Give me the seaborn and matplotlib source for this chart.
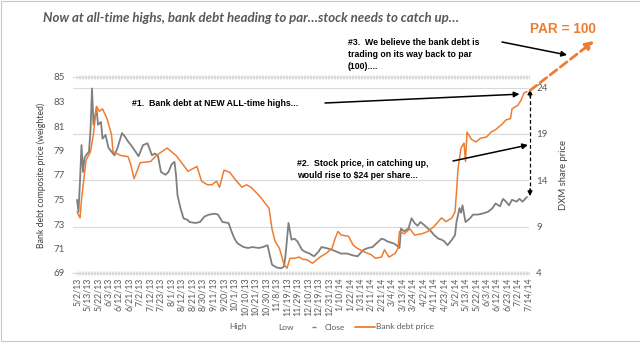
import matplotlib
matplotlib.use("Agg")
import matplotlib.pyplot as plt
from matplotlib.lines import Line2D
from matplotlib.patches import Rectangle
from matplotlib import font_manager
import pandas as pd
import seaborn as sns

# ---- data -------------------------------------------------------------
# x positions are trading sessions counted from 5/2/13
tick_labels = [
    "5/2/13", "5/13/13", "5/22/13", "6/3/13", "6/12/13", "6/21/13", "7/2/13",
    "7/12/13", "7/23/13", "8/1/13", "8/12/13", "8/21/13", "8/30/13", "9/11/13",
    "9/20/13", "10/1/13", "10/10/13", "10/21/13", "10/30/13", "11/8/13",
    "11/19/13", "11/29/13", "12/10/13", "12/19/13", "12/31/13", "1/10/14",
    "1/22/14", "1/31/14", "2/11/14", "2/21/14", "3/4/14", "3/13/14", "3/24/14",
    "4/2/14", "4/11/14", "4/23/14", "5/2/14", "5/13/14", "5/22/14", "6/3/14",
    "6/12/14", "6/23/14", "7/2/14", "7/14/14",
]
sessions_per_label = 7

bank_day = [0, 2, 3, 6, 9, 11, 13, 15, 17, 20, 23, 24, 29, 34, 36, 38, 40, 42,
            49, 53, 60, 62, 66, 71, 74, 80, 83, 87, 90, 93, 95, 98, 102, 105,
            110, 113, 116, 120, 123, 126, 128, 130, 132, 135, 138, 140, 142,
            145, 148, 151, 153, 157, 162, 166, 170, 172, 174, 176, 181, 184,
            187, 192, 196, 199, 203, 205, 208, 212, 214, 215, 218, 222, 225,
            230, 234, 238, 243, 246, 250, 252, 253, 254, 256, 258, 259, 260,
            263, 266, 269, 273, 276, 279, 283, 286, 289, 290, 294, 296, 298, 300]
bank_price = [74.0, 73.5, 75.0, 78.2, 78.9, 80.4, 82.6, 82.2, 82.4, 81.6, 80.3,
              78.9, 78.6, 78.5, 77.8, 76.7, 77.3, 78.0, 78.1, 78.6, 79.2, 79.0,
              78.6, 77.8, 77.3, 77.7, 76.5, 76.2, 76.2, 76.5, 76.0, 77.4, 77.2,
              76.7, 76.0, 76.2, 76.0, 75.5, 75.1, 74.6, 74.3, 72.6, 71.6, 71.0,
              69.7, 69.4, 70.2, 70.2, 70.3, 70.1, 70.1, 69.8, 70.3, 70.6, 71.0,
              71.8, 72.4, 72.1, 72.0, 71.3, 71.0, 70.7, 70.5, 70.2, 70.3, 70.9,
              70.3, 70.6, 71.0, 72.4, 72.2, 72.6, 72.1, 72.2, 72.4, 72.8, 73.5,
              73.2, 73.5, 74.0, 75.6, 77.5, 79.2, 79.6, 78.1, 80.5, 79.9, 79.7,
              80.0, 80.1, 80.5, 80.7, 81.1, 81.5, 81.6, 82.4, 82.7, 83.1, 83.7,
              83.8]

stock_day = [0, 1, 2, 3, 4, 5, 6, 8, 9, 10, 11, 13, 14, 16, 17, 19, 21, 23, 25,
             27, 30, 32, 34, 36, 39, 41, 44, 47, 50, 52, 54, 56, 59, 61, 63, 65,
             66, 67, 69, 71, 74, 75, 79, 82, 85, 88, 92, 94, 97, 101, 103, 105,
             107, 111, 114, 117, 121, 124, 127, 128, 130, 133, 136, 138, 139,
             140, 141, 143, 145, 147, 150, 152, 155, 158, 161, 163, 166, 170,
             173, 176, 180, 184, 187, 191, 194, 197, 201, 203, 205, 207, 211,
             213, 215, 216, 218, 221, 223, 225, 227, 229, 232, 234, 236, 238,
             241, 243, 245, 247, 250, 252, 253, 255, 256, 257, 259, 262, 264,
             267, 270, 274, 277, 279, 282, 284, 286, 288, 290, 293, 295, 297, 300]
stock_close = [11.9, 10.6, 13.9, 17.8, 14.9, 16.4, 16.7, 17.1, 19.4, 23.9, 20.0,
               21.8, 20.0, 20.3, 18.5, 18.9, 17.5, 17.1, 16.7, 17.5, 19.1, 18.7,
               18.2, 17.8, 17.1, 16.6, 17.8, 18.0, 16.7, 16.9, 16.6, 14.9, 14.6,
               14.9, 15.7, 16.0, 14.6, 12.4, 11.0, 9.9, 9.7, 9.5, 9.4, 9.5, 10.1,
               10.3, 10.4, 10.3, 9.5, 9.4, 8.5, 7.7, 7.2, 6.8, 6.7, 6.8, 6.7, 6.8,
               7.0, 6.3, 4.9, 4.6, 4.5, 4.7, 5.9, 7.7, 9.4, 7.6, 7.7, 7.4, 6.5,
               6.3, 6.1, 5.8, 6.3, 6.8, 6.7, 6.5, 6.3, 6.1, 6.1, 5.9, 5.8, 6.5,
               6.7, 6.8, 7.4, 7.7, 7.6, 7.4, 7.2, 7.0, 6.7, 8.8, 8.5, 8.8, 9.9,
               9.4, 9.1, 9.5, 9.1, 8.8, 8.5, 8.1, 7.7, 7.6, 7.4, 7.0, 7.6, 8.1,
               9.5, 11.0, 10.5, 11.3, 9.5, 9.9, 10.3, 10.3, 10.4, 10.6, 11.0,
               11.5, 11.2, 12.0, 11.7, 11.3, 11.9, 11.7, 12.0, 11.7, 12.2]

par_target = 24  # implied DXM share price at par

bank = pd.DataFrame({"session": bank_day, "price": bank_price})
stock = pd.DataFrame({"session": stock_day, "close": stock_close})

# ---- styling ----------------------------------------------------------
sns.set_theme(style="white")
plt.rcParams["font.family"] = ["Lato", "DejaVu Sans"]

installed = {f.name for f in font_manager.fontManager.ttflist}
narrow_ok = "Liberation Sans Narrow" in installed
NOTE_FAMILY = ["Liberation Sans Narrow", "Liberation Sans", "DejaVu Sans"]
note_size = 7.4 if narrow_ok else 6.3

ORANGE = "#ed7d31"
GREY = "#7f7f7f"
TXT = "#595959"
GRID = "#d9d9d9"

W, H = 640, 344
fig = plt.figure(figsize=(W / 100, H / 100), dpi=100)
fig.patch.set_facecolor("white")

# outer frame of the slide
fig.add_artist(Rectangle((0.5 / W, 1 - 340.5 / H), 640 / W, 339.5 / H,
                         transform=fig.transFigure, fill=False,
                         edgecolor="#c8c8c8", linewidth=0.8))

ax = fig.add_axes([73.25 / W, 1 - 273 / H, 456 / W, 196 / H])
ax2 = ax.twinx()

# stock price (right axis) and bank debt (left axis)
sns.lineplot(data=stock, x="session", y="close", ax=ax2, color=GREY,
             linewidth=1.3, legend=False)
sns.lineplot(data=bank, x="session", y="price", ax=ax, color=ORANGE,
             linewidth=1.1, legend=False)
ax.set_zorder(ax2.get_zorder() + 1)
ax.patch.set_visible(False)

n_sessions = (len(tick_labels) - 1) * sessions_per_label
ax.set_xlim(-2.5, n_sessions + 0.5)
ax.set_ylim(69, 85)
ax2.set_ylim(4, 25.15)

ax.set_yticks(range(69, 86, 2))
ax2.set_yticks(range(4, 25, 5))
ax.set_xticks([i * sessions_per_label for i in range(len(tick_labels))])
ax.set_xticklabels(tick_labels, rotation=90, fontsize=6.3, color=TXT)
ax.set_xticks(range(0, n_sessions + 1), minor=True)

ax.tick_params(axis="y", labelsize=7, colors=TXT, length=0, pad=6)
ax2.tick_params(axis="y", labelsize=7, colors=TXT, length=0, pad=5)
ax.tick_params(axis="x", which="both", length=2.5, width=0.6, color=GRID,
               direction="inout", pad=2, top=True, bottom=True)

ax2.grid(axis="y", color=GRID, linewidth=0.8)
ax2.set_axisbelow(True)
ax.grid(False)
for a in (ax, ax2):
    for side in ("left", "right"):
        a.spines[side].set_visible(False)
    for side in ("top", "bottom"):
        a.spines[side].set_color(GRID)
        a.spines[side].set_linewidth(0.8)

ax.set_xlabel("")
ax.set_ylabel("Bank debt composite price (weighted)", fontsize=6.3,
              color="#404040", labelpad=5)
ax2.set_ylabel("DXM share price", fontsize=6.8, color="#404040", labelpad=8)

# ---- annotations ------------------------------------------------------
last_day = bank_day[-1]
bank_end = bank_price[-1]
stock_end = stock_close[-1]

fig.text(43 / W, 1 - 18 / H,
         "Now at all-time highs, bank debt heading to par\u2026stock needs to catch up\u2026",
         fontsize=9.5, fontweight="bold", fontstyle="italic", color=TXT,
         va="center", ha="left")

note_font = dict(fontsize=note_size, fontweight="bold", color="black",
                 family=NOTE_FAMILY, linespacing=1.45)

fig.text(348 / W, 1 - 38 / H,
         "#3.  We believe the bank debt is\ntrading on its way back to par\n(100)....",
         va="top", ha="left", **note_font)
fig.text(132 / W, 1 - 103 / H, "#1.  Bank debt at NEW ALL-time highs...",
         va="center", ha="left", **note_font)
fig.text(297 / W, 1 - 159 / H,
         "#2.  Stock price, in catching up,\nwould rise to $24 per share...",
         va="top", ha="left", **note_font)

fig.text(563 / W, 1 - 29 / H, "PAR = 100", fontsize=9.8, fontweight="bold",
         color=ORANGE, ha="center", va="center", family=NOTE_FAMILY)

arrow_k = dict(arrowstyle="-|>", color="black", lw=1.1,
               mutation_scale=8, shrinkA=0, shrinkB=0)

# #1 arrow toward the latest bank debt price
ax.annotate("", xy=(last_day - 5, bank_end - 0.2), xycoords="data",
            xytext=(325, H - 103), textcoords="figure pixels",
            arrowprops=arrow_k, annotation_clip=False)
# #2 arrow toward the gap on the right
ax.annotate("", xy=(528, H - 145), xycoords="figure pixels",
            xytext=(453, H - 161), textcoords="figure pixels",
            arrowprops=arrow_k, annotation_clip=False)
# #3 arrow toward the par projection
ax.annotate("", xy=(567, H - 55), xycoords="figure pixels",
            xytext=(502, H - 42), textcoords="figure pixels",
            arrowprops=arrow_k, annotation_clip=False)

# dashed gap between stock close and its par-implied price
gap_x = last_day + 2
ax2.plot([gap_x, gap_x], [stock_end + 0.5, par_target - 0.6], color="black",
         linestyle=(0, (3, 2)), linewidth=0.9, clip_on=False)
head = dict(arrowstyle="-|>", color="black", lw=0.9, mutation_scale=7,
            shrinkA=0, shrinkB=0)
ax2.annotate("", xy=(gap_x, par_target - 0.2), xytext=(gap_x, par_target - 1.0),
             arrowprops=head, annotation_clip=False)
ax2.annotate("", xy=(gap_x, stock_end + 0.1), xytext=(gap_x, stock_end + 0.9),
             arrowprops=head, annotation_clip=False)

# orange dashed projection to par
ax.annotate("", xy=(594, H - 41), xycoords="figure pixels",
            xytext=(last_day + 2, bank_end + 0.1), textcoords="data",
            arrowprops=dict(arrowstyle="-|>", color=ORANGE, lw=2.0,
                            linestyle=(0, (3, 1.6)), mutation_scale=12,
                            shrinkA=0, shrinkB=0),
            annotation_clip=False)

# ---- legend -----------------------------------------------------------
handles = [
    Line2D([], [], color="none"),
    Line2D([], [], color="none"),
    Line2D([], [], color=GREY, marker="_", linestyle="none", markersize=3),
    Line2D([], [], color=ORANGE, linewidth=1.3),
]
fig.legend(handles, ["High", "Low", "Close", "Bank debt price"],
           loc="center", bbox_to_anchor=(321 / W, 1 - 327 / H), ncol=4,
           frameon=False, fontsize=6, labelcolor=TXT, handlelength=2.4,
           handletextpad=0.15, columnspacing=1.2)

fig.savefig("out.png", dpi=100, facecolor="white")
